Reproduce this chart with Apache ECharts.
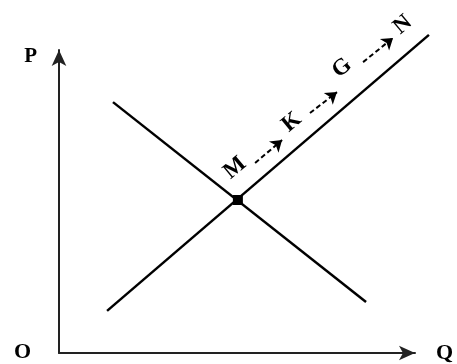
<!DOCTYPE html>
<html lang="en">

<head>
  <meta charset="UTF-8">
  <title>supply demand</title>
  <script src="https://cdn.jsdelivr.net/npm/echarts@6.0.0/dist/echarts.min.js"></script>
  <style>
    html, body { margin: 0; padding: 0; background: #fff; }
    #id1 {
      width: 457px;
      height: 364px;
    }
  </style>
</head>

<body>
  <div id="id1"></div>
  <script>
    // Q on x, P on y (arbitrary units)
    let supply = [[1.62, 1.39], [12.47, 10.5]];
    let demand = [[1.82, 8.28], [10.35, 1.68]];
    let equilibrium = [[6.03, 5.05]];

    let pointNames = ['M', 'K', 'G', 'N'];
    let pointPos = [[5.93, 6.11], [7.85, 7.62], [9.54, 9.41], [11.59, 10.83]];
    let moves = [
      [[6.61, 6.27], [7.52, 7.03]],
      [[8.46, 7.92], [9.37, 8.61]],
      [[10.25, 9.6], [11.26, 10.4]]
    ];

    let font = 'Liberation Serif';
    let ink = '#000';

    let dom1 = document.getElementById('id1');
    let instance1 = echarts.init(dom1);
    let option1 = {
      animation: false,
      grid: { left: 59, top: 50, width: 356, height: 303 },
      xAxis: {
        type: 'value', min: 0, max: 12,
        name: 'Q', nameLocation: 'end', nameGap: 21,
        nameTextStyle: { fontFamily: font, fontWeight: 'bold', fontSize: 22, color: ink, verticalAlign: 'middle' },
        axisLine: { show: true, symbol: ['none', 'arrow'], symbolSize: [11, 16], lineStyle: { color: '#222', width: 2 } },
        axisTick: { show: false }, axisLabel: { show: false }, splitLine: { show: false }
      },
      yAxis: {
        type: 'value', min: 0, max: 10,
        name: 'P', nameLocation: 'end', nameGap: -7,
        nameTextStyle: { fontFamily: font, fontWeight: 'bold', fontSize: 21, color: ink, align: 'right', verticalAlign: 'middle', padding: [0, 22, 0, 0] },
        axisLine: { show: true, symbol: ['none', 'arrow'], symbolSize: [11, 16], lineStyle: { color: '#222', width: 2 } },
        axisTick: { show: false }, axisLabel: { show: false }, splitLine: { show: false }
      },
      graphic: [
        { type: 'text', left: 14, top: 341, style: { text: 'O', font: 'bold 22px "Liberation Serif"', fill: ink } }
      ],
      series: [
        {
          type: 'lines', coordinateSystem: 'cartesian2d', clip: false,
          lineStyle: { color: ink, width: 2.5, opacity: 1 },
          data: [{ coords: supply }, { coords: demand }]
        },
        { type: 'scatter', data: equilibrium, symbol: 'rect', symbolSize: 10, itemStyle: { color: ink, opacity: 1 } },
        {
          type: 'scatter', clip: false, symbolSize: 0, itemStyle: { opacity: 1 },
          data: pointNames.map((n, i) => ({ name: n, value: pointPos[i] })),
          label: {
            show: true, position: 'inside', formatter: '{b}', rotate: 40,
            fontFamily: font, fontWeight: 'bold', fontSize: 23, color: ink, opacity: 1
          }
        },
        {
          type: 'lines', coordinateSystem: 'cartesian2d', clip: false,
          symbol: ['none', 'arrow'], symbolSize: 11,
          lineStyle: { color: ink, width: 2, type: [5, 3], opacity: 1 },
          data: moves.map(m => ({ coords: m }))
        }
      ]
    };

    instance1.setOption(option1);
  </script>
</body>

</html>
